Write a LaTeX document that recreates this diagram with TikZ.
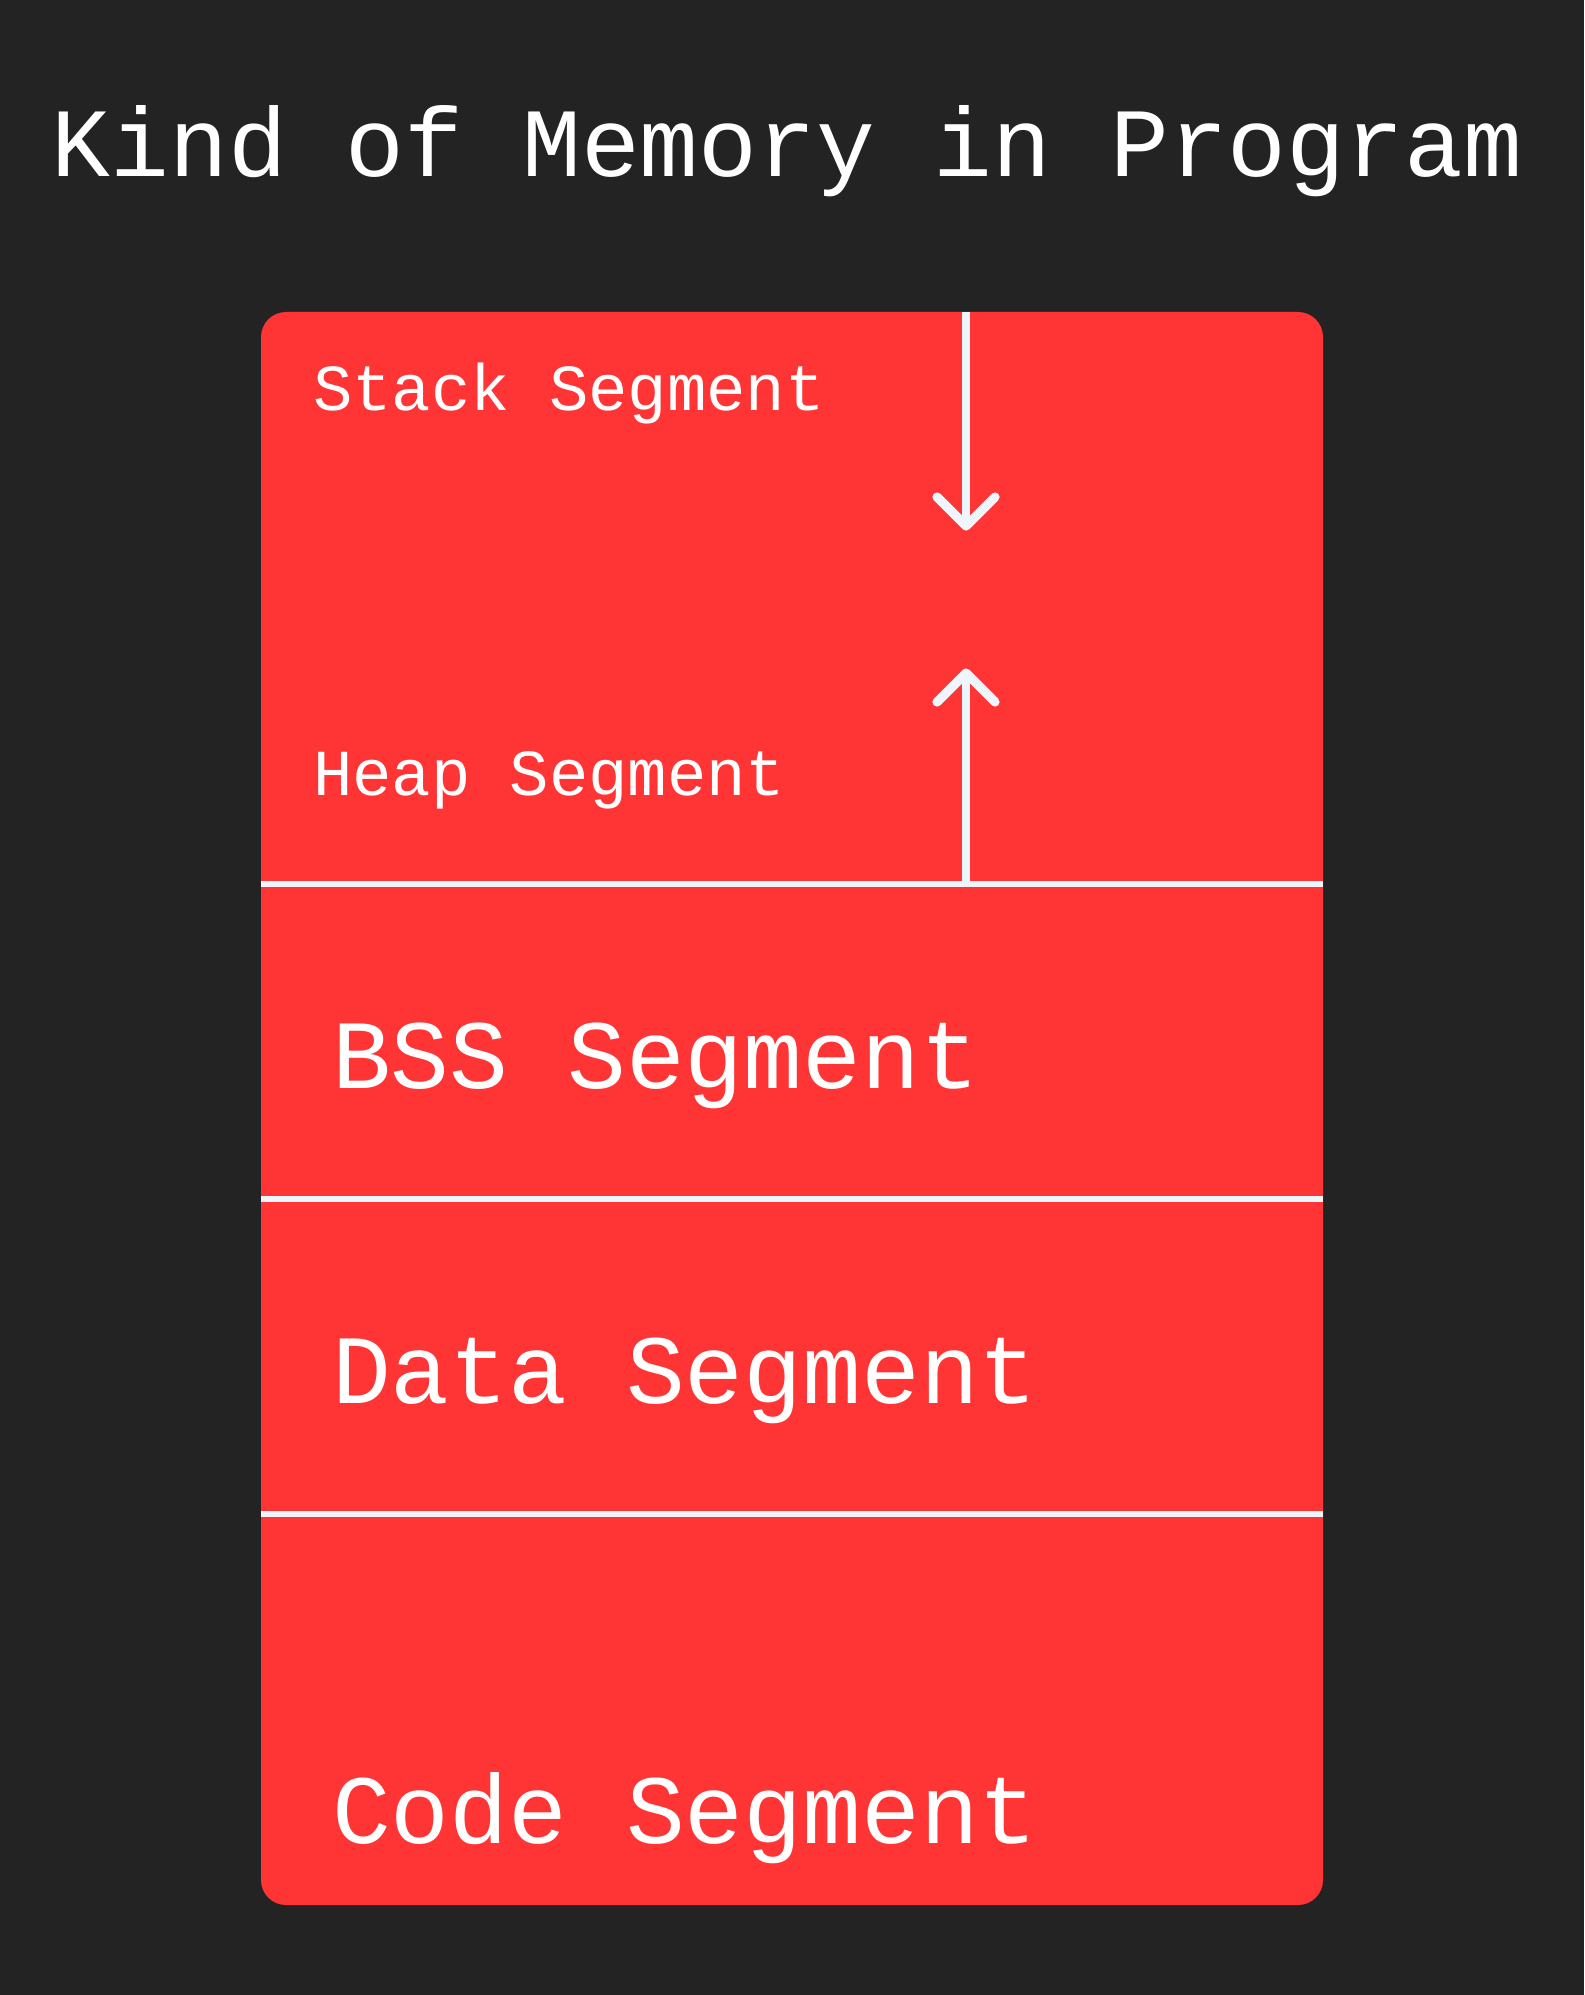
\documentclass[tikz,border=0pt]{standalone}
\usepackage{fontspec}
\usetikzlibrary{calc}
\setmonofont{Liberation Mono}
\definecolor{backdrop}{HTML}{232323}
\definecolor{segred}{HTML}{FF3535}
\definecolor{ink}{HTML}{EEF6FC}
\begin{document}
\begin{tikzpicture}[x=0.5pt,y=-0.5pt,
  segtext/.style={inner sep=0pt, outer sep=0pt, anchor=base west, text=white,
    font=\ttfamily\fontsize{32.8}{33}\selectfont},
  bigtext/.style={segtext, font=\ttfamily\fontsize{49}{49}\selectfont},
  divider/.style={draw=ink, line width=2.8pt},
  shaft/.style={draw=ink, line width=4pt},
  barb/.style={draw=ink, line width=4.6pt, line cap=round, line join=round}]
  % page
  \fill[backdrop] (0,0) rectangle (1584,1995);
  \useasboundingbox (0,0) rectangle (1584,1995);
  % title
  \node[bigtext, anchor=base] (title) at (787,177) {Kind of Memory in Program};
  % memory block
  \fill[segred, rounded corners=12.5pt] (261,312) rectangle (1323,1905);
  \coordinate (heapL) at (261,884);
  \coordinate (heapR) at (1323,884);
  \coordinate (bssL) at (261,1199);
  \coordinate (bssR) at (1323,1199);
  \coordinate (dataL) at (261,1514);
  \coordinate (dataR) at (1323,1514);
  \draw[divider] (heapL) -- (heapR);
  \draw[divider] (bssL) -- (bssR);
  \draw[divider] (dataL) -- (dataR);
  % segment names
  \node[segtext] (stack) at (313,410) {Stack Segment};
  \node[segtext] (heap) at (313,795) {Heap Segment};
  \node[bigtext] (bss) at (332,1088) {BSS Segment};
  \node[bigtext] (data) at (332,1403) {Data Segment};
  \node[bigtext] (code) at (332,1843) {Code Segment};
  % growth directions
  \coordinate (stackTop) at (966,312);
  \coordinate (stackTip) at (966,526);
  \coordinate (heapBase) at (966,884);
  \coordinate (heapTip) at (966,673);
  \draw[shaft] (stackTop) -- (stackTip);
  \draw[barb] ($(stackTip)+(-29,-29)$) -- (stackTip) -- ($(stackTip)+(29,-29)$);
  \draw[shaft] (heapBase) -- (heapTip);
  \draw[barb] ($(heapTip)+(-29,29)$) -- (heapTip) -- ($(heapTip)+(29,29)$);
\end{tikzpicture}
\end{document}
